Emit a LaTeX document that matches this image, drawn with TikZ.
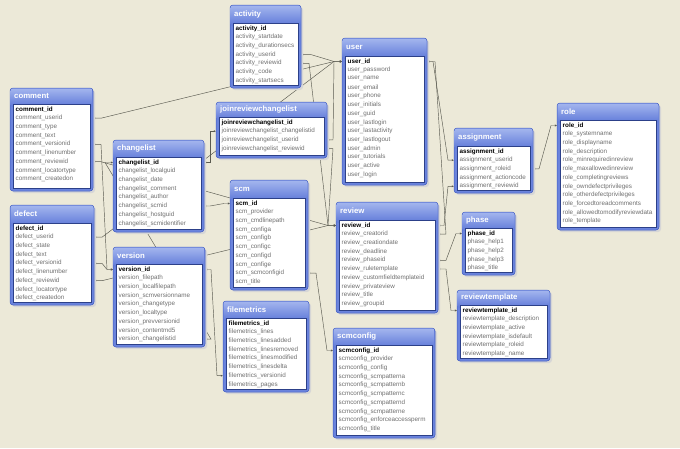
\documentclass[tikz,border=0pt]{standalone}
\usepackage{fontspec}
\setmainfont{Liberation Sans}
\usetikzlibrary{arrows.meta,calc}
\definecolor{bgc}{HTML}{ECE9D8}
\definecolor{hdtop}{HTML}{A3B5EE}
\definecolor{hdbot}{HTML}{5E78D8}
\definecolor{framec}{HTML}{6A83DC}
\definecolor{framed}{HTML}{3F5BC4}
\definecolor{rowc}{HTML}{707070}
\definecolor{linec}{HTML}{5A5A50}
\pgfdeclarelayer{back}
\pgfdeclarelayer{lines}
\pgfsetlayers{back,lines,main}
\tikzset{
  tframe/.style={draw=framed, fill=framec, line width=0.5pt, rounded corners=3pt, inner sep=0pt, outer sep=0pt},
  tbody/.style={draw=framed!70!black, fill=white, line width=0.4pt, inner sep=0pt, outer sep=0pt},
  ttitle/.style={text=white, font=\fontsize{7.8}{8}\selectfont\bfseries, inner sep=0pt},
  trow/.style={anchor=west, text=rowc, font=\fontsize{6.3}{7}\selectfont, inner sep=0pt},
  conn/.style={draw=linec, line width=0.45pt},
  endmark/.style={{Latex[length=2.2pt,width=2.2pt]}-{Latex[length=2.2pt,width=2.2pt]}}
}
\newcommand{\dbt}[7]{%
  \fill[black!16, rounded corners=3pt] ({#2+2},{#3+2}) rectangle ({#4+2},{#5+2});
  \node[tframe, anchor=north west, minimum width={#4-#2}, minimum height={#5-#3}] (#1) at (#2,#3) {};
  \shade[top color=hdtop, bottom color=hdbot, rounded corners=2.5pt] ({#2+0.5},{#3+0.5}) rectangle ({#4-0.5},{#6+3});
  \node[tbody, anchor=north west, minimum width={#4-#2-6}, minimum height={#5-#6-3}] (#1-body) at ({#2+3},{#6}) {};
  \node[ttitle, anchor=west] (#1-title) at ({#2+4},{(#3+#6)/2}) {#1};
  \foreach[count=\i] \r in {#7} {\node[trow] (#1-\i) at ({#2+5.5},{#6+5.5+(\i-1)*8.7}) {\ifnum\i=1 \color{black}\bfseries\fi #1\_\r};}
}
\newcommand{\lnk}[8]{%
  \coordinate (#1-#3-a) at (#1.#2 |- #1-#3);
  \coordinate (#1-#3-b) at (#5.#6 |- #5-#7);
  \draw[conn, endmark] (#1-#3-a) -- ++(#4,0) -- ($(#1-#3-b)+(#8,0)$) -- (#1-#3-b);
}
\begin{document}
\begin{tikzpicture}[x=1pt,y=-1pt]
\begin{pgfonlayer}{back}
\fill[bgc] (0,0) rectangle (680,448);
\end{pgfonlayer}
\useasboundingbox (0,0) rectangle (680,448);
\dbt{activity}{230}{5}{301}{88}{23}{id,startdate,durationsecs,userid,reviewid,code,startsecs}
\dbt{joinreviewchangelist}{216}{102}{327}{158}{117}{id,changelistid,userid,reviewid}
\dbt{user}{342}{38}{427}{185}{56}{id,password,name,email,phone,initials,guid,lastlogin,lastactivity,lastlogout,admin,tutorials,active,login}
\dbt{comment}{10}{88}{93}{191}{104}{id,userid,type,text,versionid,linenumber,reviewid,locatortype,createdon}
\dbt{changelist}{113}{140}{204}{232}{157}{id,localguid,date,comment,author,scmid,hostguid,scmidentifier}
\dbt{role}{557}{103}{659}{230}{120}{id,systemname,displayname,description,minrequiredinreview,maxallowedinreview,completingreviews,owndefectprivileges,otherdefectprivileges,forcedtoreadcomments,allowedtomodifyreviewdata,template}
\dbt{assignment}{454}{128}{533}{193}{146}{id,userid,roleid,actioncode,reviewid}
\dbt{defect}{10}{205}{94}{305}{223}{id,userid,state,text,versionid,linenumber,reviewid,locatortype,createdon}
\dbt{version}{113}{247}{205}{347}{264}{id,filepath,localfilepath,scmversionname,changetype,localtype,prevversionid,contentmd5,changelistid}
\dbt{scm}{230}{180}{308}{290}{198}{id,provider,cmdlinepath,configa,configb,configc,configd,confige,scmconfigid,title}
\dbt{review}{336}{202}{438}{313}{220}{id,creatorid,creationdate,deadline,phaseid,ruletemplate,customfieldtemplateid,privateview,title,groupid}
\dbt{phase}{462}{212}{515}{275}{228}{id,help1,help2,help3,title}
\dbt{reviewtemplate}{457}{290}{550}{361}{305}{id,description,active,isdefault,roleid,name}
\dbt{filemetrics}{223}{301}{309}{392}{318}{id,lines,linesadded,linesremoved,linesmodified,linesdelta,versionid,pages}
\dbt{scmconfig}{333}{328}{435}{438}{345}{id,provider,config,scmpatterna,scmpatternb,scmpatternc,scmpatternd,scmpatterne,enforceaccessperm,title}
\begin{pgfonlayer}{lines}
\lnk{comment}{east}{2}{8}{user}{west}{1}{-8}
\lnk{comment}{east}{5}{8}{version}{west}{1}{-6}
\lnk{comment}{east}{7}{8}{review}{west}{1}{-8}
\lnk{defect}{east}{2}{8}{user}{west}{1}{-8}
\lnk{defect}{east}{5}{8}{version}{west}{1}{-6}
\lnk{defect}{east}{7}{8}{review}{west}{1}{-8}
\lnk{activity}{east}{4}{10}{user}{west}{1}{-8}
\lnk{activity}{east}{5}{8}{review}{west}{1}{-8}
\lnk{joinreviewchangelist}{west}{2}{-6}{changelist}{east}{1}{6}
\lnk{joinreviewchangelist}{east}{3}{6}{user}{west}{1}{-8}
\lnk{joinreviewchangelist}{east}{4}{6}{review}{west}{1}{-8}
\lnk{changelist}{east}{6}{6}{scm}{west}{1}{-6}
\lnk{version}{east}{9}{6}{changelist}{west}{1}{-8}
\lnk{filemetrics}{west}{7}{-6}{version}{east}{1}{6}
\lnk{scm}{east}{9}{8}{scmconfig}{west}{1}{-6}
\lnk{review}{east}{2}{8}{user}{east}{1}{8}
\lnk{review}{east}{5}{8}{phase}{west}{1}{-6}
\lnk{review}{east}{6}{8}{reviewtemplate}{west}{1}{-6}
\lnk{assignment}{west}{2}{-6}{user}{east}{1}{6}
\lnk{assignment}{east}{3}{6}{role}{west}{1}{-6}
\lnk{assignment}{west}{5}{-6}{review}{east}{1}{6}
\end{pgfonlayer}
\end{tikzpicture}
\end{document}
